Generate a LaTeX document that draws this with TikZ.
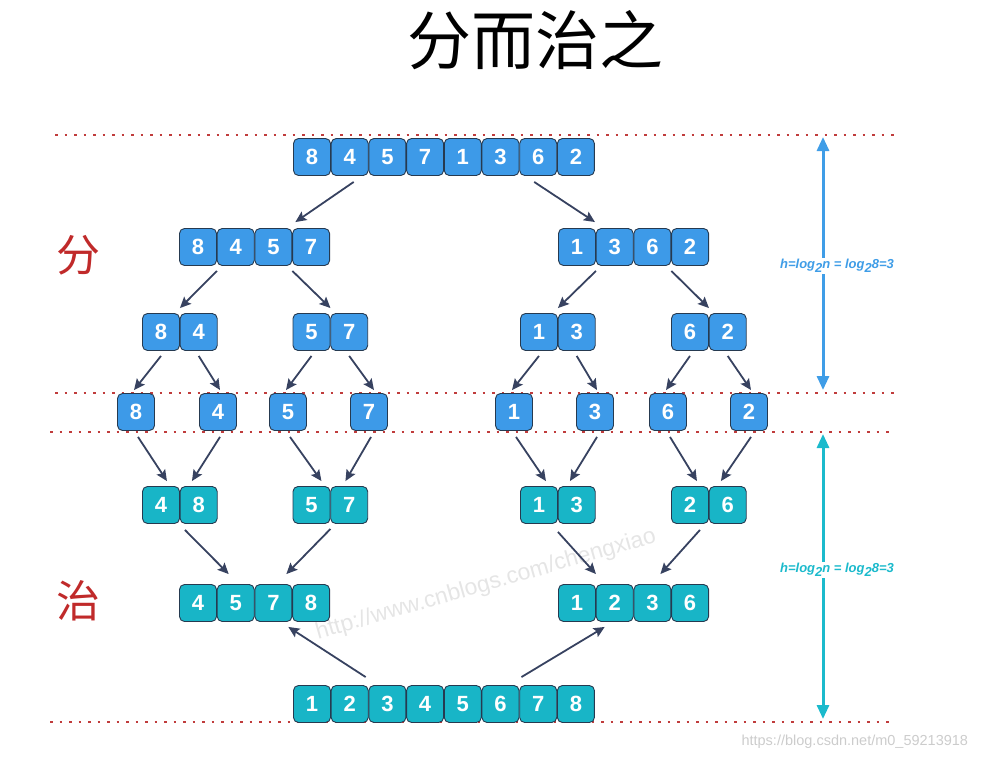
\documentclass[tikz,border=0pt]{standalone}
\usepackage{fontspec}
\setmainfont{Liberation Sans}
\newfontfamily\cjk{Noto Sans CJK SC}
\usetikzlibrary{arrows.meta}

\definecolor{boxblue}{RGB}{61,154,232}
\definecolor{boxteal}{RGB}{24,181,199}
\definecolor{boxline}{RGB}{38,58,80}
\definecolor{arrowdark}{RGB}{55,66,96}
\definecolor{dotred}{RGB}{192,60,60}
\definecolor{markblue}{RGB}{63,157,231}
\definecolor{markteal}{RGB}{27,186,204}
\definecolor{cnred}{RGB}{192,42,42}

\begin{document}
\begin{tikzpicture}[x=1pt,y=-1pt,
  cell/.style={draw=boxline,line width=0.9pt,rounded corners=5pt,minimum width=37pt,minimum height=37pt,inner sep=0pt,text=white,font=\fontsize{22}{22}\selectfont\bfseries},
  bcell/.style={cell,fill=boxblue},
  tcell/.style={cell,fill=boxteal},
  link/.style={draw=arrowdark,line width=1.8pt,-{Stealth[length=11pt,width=10pt,inset=2pt]}},
  sepline/.style={draw=dotred,line width=2.5pt,dash pattern=on 2.5pt off 7pt},
  span/.style={line width=3pt,{Triangle[length=14pt,width=12pt]}-{Triangle[length=14pt,width=12pt]}},
  hlabel/.style={fill=white,inner sep=2pt,font=\fontsize{13}{14}\selectfont\bfseries\itshape},
]
\useasboundingbox (0,0) rectangle (996,760);

%Text: watermarks (behind everything)
\node[text=black!10,rotate=16,font=\fontsize{23}{23}\selectfont] (wmark) at (486,585) {http://www.cnblogs.com/chengxiao};
\node[text=black!20,font=\fontsize{14.5}{15}\selectfont,anchor=west] (csdn) at (738,742) {https://blog.csdn.net/m0\_59213918};

%Text: title and side marks
\node[font=\cjk\fontsize{64}{64}\selectfont] (title) at (535,40) {分而治之};
\node[font=\cjk\fontsize{44}{44}\selectfont,text=cnred] (fen) at (78,255) {分};
\node[font=\cjk\fontsize{44}{44}\selectfont,text=cnred] (zhi) at (78,601) {治};

%Straight Lines: dotted separators
\coordinate (sepA1) at (55,135);  \coordinate (sepA2) at (895,135);
\coordinate (sepB1) at (55,393);  \coordinate (sepB2) at (895,393);
\coordinate (sepC1) at (50,432);  \coordinate (sepC2) at (890,432);
\coordinate (sepD1) at (50,722);  \coordinate (sepD2) at (890,722);
\draw[sepline] (sepA1) -- (sepA2);
\draw[sepline] (sepB1) -- (sepB2);
\draw[sepline] (sepC1) -- (sepC2);
\draw[sepline] (sepD1) -- (sepD2);

%Shape: split rows (blue)
\foreach \v [count=\i] in {8,4,5,7,1,3,6,2}
  \node[bcell] (t\i) at ({312+37.7*(\i-1)},157) {\v};
\foreach \v [count=\i] in {8,4,5,7}
  \node[bcell] (la\i) at ({198+37.7*(\i-1)},247) {\v};
\foreach \v [count=\i] in {1,3,6,2}
  \node[bcell] (ra\i) at ({577+37.7*(\i-1)},247) {\v};
\foreach \n/\x/\a/\b in {pa/161/8/4, pb/311.5/5/7, pc/539/1/3, pd/690/6/2} {
  \node[bcell] (\n1) at (\x,332) {\a};
  \node[bcell] (\n2) at (\x+37.7,332) {\b};
}
\foreach \v/\x [count=\i] in {8/136,4/218,5/288,7/369,1/514,3/595,6/668,2/749}
  \node[bcell] (s\i) at (\x,412) {\v};

%Shape: merge rows (teal)
\foreach \n/\x/\a/\b in {qa/161/4/8, qb/311.5/5/7, qc/539/1/3, qd/690/2/6} {
  \node[tcell] (\n1) at (\x,505) {\a};
  \node[tcell] (\n2) at (\x+37.7,505) {\b};
}
\foreach \v [count=\i] in {4,5,7,8}
  \node[tcell] (mla\i) at ({198+37.7*(\i-1)},603) {\v};
\foreach \v [count=\i] in {1,2,3,6}
  \node[tcell] (mra\i) at ({577+37.7*(\i-1)},603) {\v};
\foreach \v [count=\i] in {1,2,3,4,5,6,7,8}
  \node[tcell] (b\i) at ({312+37.7*(\i-1)},704) {\v};

%Arrows: split
\draw[link] ([shift={(4,6)}]t2.south) -- ([shift={(3,-6)}]la3.north east);
\draw[link] ([shift={(-4,6)}]t7.south) -- ([shift={(-1,-6)}]ra1.north east);
\foreach \p/\q in {la1/pa1, la3/pb1, ra1/pc1, ra3/pd1}
  \draw[link] ([shift={(0,5)}]\p.south east) -- ([shift={(0,-5)}]\q.north east);
\foreach \p/\s/\dx in {pa1/s1/-2, pa2/s2/2, pb1/s3/-2, pb2/s4/5, pc1/s5/-2, pc2/s6/2, pd1/s7/-2, pd2/s8/2}
  \draw[link] ([shift={(0,5)}]\p.south) -- ([shift={(\dx,-3)}]\s.north);

%Arrows: merge
\foreach \s/\q/\dx in {s1/qa1/-13, s2/qa1/12, s3/qb1/-9, s4/qb1/15, s5/qc1/-12, s6/qc1/12, s7/qd1/-12, s8/qd1/12}
  \draw[link] ([shift={(2,6)}]\s.south) -- ([shift={(\dx,-5)}]\q.north east);
\draw[link] ([shift={(5,6)}]qa1.south east) -- ([shift={(-7,-10)}]mla2.north);
\draw[link] ([shift={(0,5)}]qb1.south east) -- ([shift={(-6,-10)}]mla3.north east);
\draw[link] ([shift={(0,8)}]qc1.south east) -- ([shift={(0,-10)}]mra1.north east);
\draw[link] ([shift={(-9,6)}]qd1.south east) -- ([shift={(8,-10)}]mra3.north);
\draw[link] ([shift={(-3,-8)}]b2.north east) -- ([shift={(-4,5)}]mla3.south east);
\draw[link] ([shift={(2,-8)}]b6.north east) -- ([shift={(-10,5)}]mra2.south);

%Straight Lines: height marks
\coordinate (htop) at (823,137);
\coordinate (hbot) at (823,390);
\coordinate (gtop) at (823,434);
\coordinate (gbot) at (823,719);
\draw[span,draw=markblue,fill=markblue] (htop) -- (hbot);
\draw[span,draw=markteal,fill=markteal] (gtop) -- (gbot);
% Text Node
\node[hlabel,text=markblue] (hsplit) at (837,266) {h=log\raisebox{-3.5pt}{2}n = log\raisebox{-3.5pt}{2}8=3};
% Text Node
\node[hlabel,text=markteal] (hmerge) at (837,570) {h=log\raisebox{-3.5pt}{2}n = log\raisebox{-3.5pt}{2}8=3};
\end{tikzpicture}
\end{document}
